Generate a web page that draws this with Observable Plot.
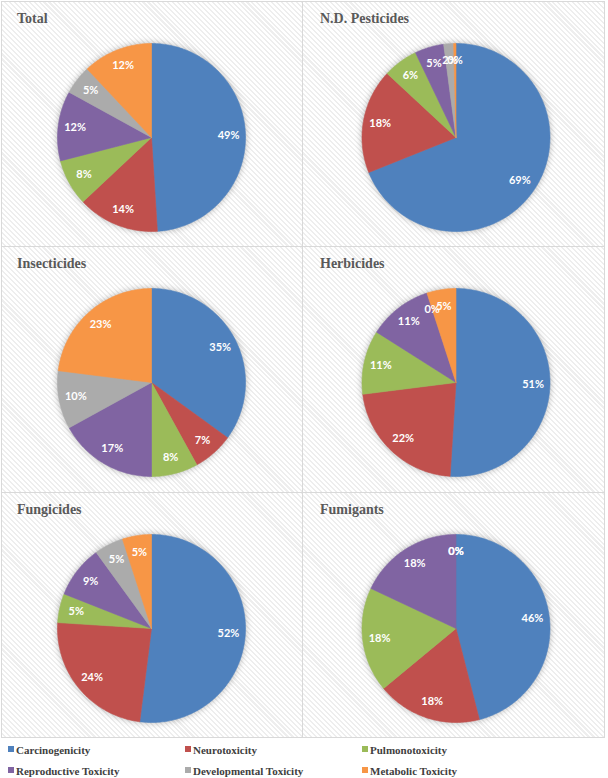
<!DOCTYPE html>
<html>
<head>
<meta charset="utf-8">
<script src="https://cdn.jsdelivr.net/npm/d3@7"></script>
<script src="https://cdn.jsdelivr.net/npm/@observablehq/plot@0.6"></script>
<style>
  html, body { margin: 0; padding: 0; background: #fff; }
  #chart { position: relative; width: 608px; height: 778px; background: #fff; overflow: hidden; }
  .panel {
    position: absolute; box-sizing: border-box; border: 1px solid #d9d9d9;
    background: repeating-linear-gradient(45deg, #ffffff 0px, #ffffff 2px, #eeeeee 2px, #eeeeee 3.5px);
  }
  .panel svg { position: absolute; left: 0; top: 0; }
  .panel svg g[aria-label="line"] { filter: drop-shadow(0px 0px 3px rgba(0,0,0,0.28)); }
  .ptitle {
    position: absolute; font-family: "Liberation Serif", serif; font-weight: bold;
    font-size: 14px; line-height: 14px; color: #595959; white-space: nowrap;
  }
  .leg {
    position: absolute; font-family: "Liberation Serif", serif; font-weight: bold;
    font-size: 11px; line-height: 12px; color: #404040; white-space: nowrap;
  }
  .sw { position: absolute; width: 6px; height: 6px; }
</style>
</head>
<body>
<div id="chart"></div>
<script>
const categories = ["Carcinogenicity", "Neurotoxicity", "Pulmonotoxicity", "Reproductive Toxicity", "Developmental Toxicity", "Metabolic Toxicity"];
const colors = ["#4F81BD", "#C0504D", "#9BBB59", "#8064A2", "#ABABAB", "#F79646"];
const panelTitles = ["Total", "N.D. Pesticides", "Insecticides", "Herbicides", "Fungicides", "Fumigants"];
const totalValues = [49, 14, 8, 12, 5, 12];
const ndPesticidesValues = [69, 18, 6, 5, 1.7, 0.4];
const insecticidesValues = [35, 7, 8, 17, 10, 23];
const herbicidesValues = [51, 22, 11, 11, 0, 5];
const fungicidesValues = [52, 24, 5, 9, 5, 5];
const fumigantsValues = [46, 18, 18, 18, 0, 0];
const panelValues = [totalValues, ndPesticidesValues, insecticidesValues, herbicidesValues, fungicidesValues, fumigantsValues];

const chart = document.getElementById("chart");
const rowTops = [1, 246, 492];
const rowHeights = [246, 247, 246];
const colLefts = [1, 302];
const colWidths = [302, 303];
const colCx = [149, 152.5];
const titleLeft = [15, 17];

panelTitles.forEach((title, i) => {
  const col = i % 2, row = Math.floor(i / 2);
  const div = document.createElement("div");
  div.className = "panel";
  div.style.left = colLefts[col] + "px";
  div.style.top = rowTops[row] + "px";
  div.style.width = colWidths[col] + "px";
  div.style.height = rowHeights[row] + "px";
  chart.appendChild(div);

  const w = colWidths[col] - 2, h = rowHeights[row] - 2;
  const cx = colCx[col], cy = 135, r = 94;

  const vals = panelValues[i];
  const arcs = d3.pie().sort(null).startAngle(0).endAngle(2 * Math.PI)(vals);
  const pts = [];
  const labels = [];
  arcs.forEach((a, k) => {
    const cat = categories[k];
    if (vals[k] > 0) {
      const n = Math.max(2, Math.ceil((a.endAngle - a.startAngle) / (Math.PI / 180)));
      pts.push({x: 0, y: 0, cat});
      for (let j = 0; j <= n; j++) {
        const t = a.startAngle + (a.endAngle - a.startAngle) * j / n;
        pts.push({x: Math.sin(t), y: Math.cos(t), cat});
      }
      pts.push({x: 0, y: 0, cat});
    }
    const m = (a.startAngle + a.endAngle) / 2;
    labels.push({x: 0.82 * Math.sin(m), y: 0.82 * Math.cos(m), text: Math.round(vals[k]) + "%"});
  });

  const svg = Plot.plot({
    width: w, height: h, margin: 0,
    x: {domain: [-1, 1], range: [cx - r, cx + r], axis: null},
    y: {domain: [-1, 1], range: [cy + r, cy - r], axis: null},
    color: {domain: categories, range: colors},
    style: {background: "transparent", overflow: "visible"},
    marks: [
      Plot.line(pts, {x: "x", y: "y", z: "cat", fill: "cat", stroke: "cat", strokeWidth: 0.6, curve: "linear"}),
      Plot.text(labels, {x: "x", y: "y", text: "text", fill: "white", fontSize: 11, fontWeight: "bold", fontFamily: "Lato, sans-serif"})
    ]
  });
  div.appendChild(svg);

  const t = document.createElement("div");
  t.className = "ptitle";
  t.textContent = title;
  t.style.left = titleLeft[col] + "px";
  t.style.top = "10px";
  div.appendChild(t);
});

// legend
const legCols = [8, 185, 362];
const legRows = [744, 765];
categories.forEach((c, k) => {
  const col = k % 3, row = Math.floor(k / 3);
  const sw = document.createElement("div");
  sw.className = "sw";
  sw.style.background = colors[k];
  sw.style.left = legCols[col] + "px";
  sw.style.top = (legRows[row] + 2) + "px";
  chart.appendChild(sw);
  const lab = document.createElement("div");
  lab.className = "leg";
  lab.textContent = c;
  lab.style.left = (legCols[col] + 8) + "px";
  lab.style.top = legRows[row] + "px";
  chart.appendChild(lab);
});
</script>
</body>
</html>
